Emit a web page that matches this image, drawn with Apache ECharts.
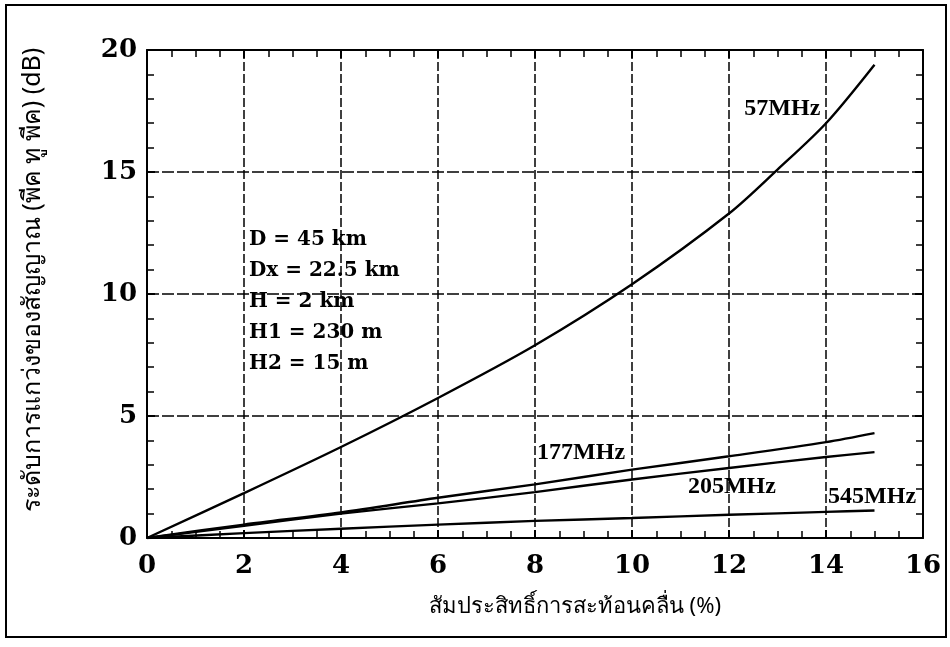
<!DOCTYPE html>
<html>
<head>
<meta charset="utf-8">
<script src="https://cdn.jsdelivr.net/npm/echarts@6/dist/echarts.min.js"></script>
<style>
  html, body { margin: 0; padding: 0; background: #fff; }
  #chart { width: 950px; height: 647px; }
</style>
</head>
<body>
<div id="chart"></div>
<script>
// values
var x57 = [0, 2, 4, 6, 8, 10, 12, 13, 14, 15];
var y57 = [0, 1.84, 3.73, 5.74, 7.9, 10.4, 13.3, 15.1, 17.0, 19.4];
var xLow = [0, 2, 4, 6, 8, 10, 12, 14, 15];
var y177 = [0, 0.55, 1.05, 1.65, 2.2, 2.8, 3.35, 3.93, 4.3];
var y205 = [0, 0.5, 1.0, 1.42, 1.88, 2.4, 2.87, 3.32, 3.52];
var y545 = [0, 0.2, 0.38, 0.55, 0.7, 0.82, 0.95, 1.07, 1.13];
var xTicks = [0, 2, 4, 6, 8, 10, 12, 14, 16];
var yTicks = [0, 5, 10, 15, 20];
var notes = ['D = 45 km', 'Dx = 22.5 km', 'H = 2 km', 'H1 = 230 m', 'H2 = 15 m'];

var tickFont = 'DejaVu Serif';
var markFont = 'Liberation Serif';
var thaiFont = 'Noto Sans, DejaVu Sans, sans-serif';

function pairs(xs, ys){
    var out = [];
    xs.forEach((x, i)=>{ out.push([x, ys[i]]); });
    return out;
}

function curve(name, xs, ys, labelAt){
    return {
        name: name,
        type: 'line',
        smooth: 0.3,
        showSymbol: false,
        silent: true,
        data: pairs(xs, ys),
        lineStyle: { color: '#000', width: 2.4 },
        markPoint: {
            symbol: 'rect',
            symbolSize: 0,
            data: [{ coord: labelAt, value: name }],
            label: {
                show: true,
                formatter: name,
                color: '#000',
                fontFamily: markFont,
                fontWeight: 'bold',
                fontSize: 24
            }
        }
    };
}

function valueAxis(opts){
    var base = {
        type: 'value',
        axisLine: { show: true, onZero: false, lineStyle: { color: '#000', width: 2 } },
        axisTick: { show: true, inside: true, length: 8, lineStyle: { color: '#000', width: 2 } },
        splitLine: { show: false },
        axisLabel: { show: false }
    };
    return Object.assign(base, opts);
}

var xMinor = { show: true, splitNumber: 4, length: 7, lineStyle: { color: '#000', width: 1.5 } };
var yMinor = { show: true, splitNumber: 5, length: 7, lineStyle: { color: '#000', width: 1.5 } };

var myChart = echarts.init(document.getElementById('chart'));
var option = {
    backgroundColor: '#fff',
    animation: false,
    grid: { left: 147, right: 27, top: 50, bottom: 109 },
    xAxis: [
        valueAxis({
            position: 'bottom', min: 0, max: 16, interval: 2,
            minorTick: xMinor,
            splitLine: { show: true, lineStyle: { color: '#000', width: 1.5, type: [9, 3] } },
            axisLabel: {
                show: true, margin: 15, color: '#000',
                fontFamily: tickFont, fontWeight: 'bold', fontSize: 26,
                formatter: function(v){ return xTicks.indexOf(v) >= 0 ? String(v) : ''; }
            },
            name: 'สัมประสิทธิ์การสะท้อนคลื่น (%)',
            nameLocation: 'middle',
            nameGap: 58,
            nameTextStyle: { color: '#000', fontFamily: thaiFont, fontSize: 22, padding: [0, 0, 0, 80] }
        }),
        valueAxis({ position: 'top', min: 0, max: 16, interval: 2, minorTick: xMinor })
    ],
    yAxis: [
        valueAxis({
            position: 'left', min: 0, max: 20, interval: 5,
            minorTick: yMinor,
            splitLine: { show: true, lineStyle: { color: '#000', width: 1.5, type: [12, 3] } },
            axisLabel: {
                show: true, margin: 10, color: '#000',
                fontFamily: tickFont, fontWeight: 'bold', fontSize: 26,
                formatter: function(v){ return yTicks.indexOf(v) >= 0 ? String(v) : ''; }
            },
            name: 'ระดับการแกว่งของสัญญาณ (พีค ทู พีค) (dB)',
            nameLocation: 'middle',
            nameRotate: 90,
            nameGap: 102,
            nameTextStyle: { color: '#000', fontFamily: thaiFont, fontSize: 25, padding: [0, 0, 0, 28] }
        }),
        valueAxis({ position: 'right', min: 0, max: 20, interval: 5, minorTick: yMinor })
    ],
    series: [
        curve('57MHz', x57, y57, [13.1, 17.6]),
        curve('177MHz', xLow, y177, [8.95, 3.5]),
        curve('205MHz', xLow, y205, [12.06, 2.1]),
        curve('545MHz', xLow, y545, [14.95, 1.7])
    ],
    graphic: [
        {
            type: 'rect',
            shape: { x: 6, y: 5, width: 940, height: 632 },
            style: { fill: 'none', stroke: '#000', lineWidth: 2 },
            silent: true
        },
        {
            type: 'text',
            left: 249,
            top: 224,
            style: {
                text: notes.join('\n'),
                fill: '#000',
                font: 'bold 20px "DejaVu Serif"',
                lineHeight: 31
            }
        }
    ]
};
myChart.setOption(option);
</script>
</body>
</html>
